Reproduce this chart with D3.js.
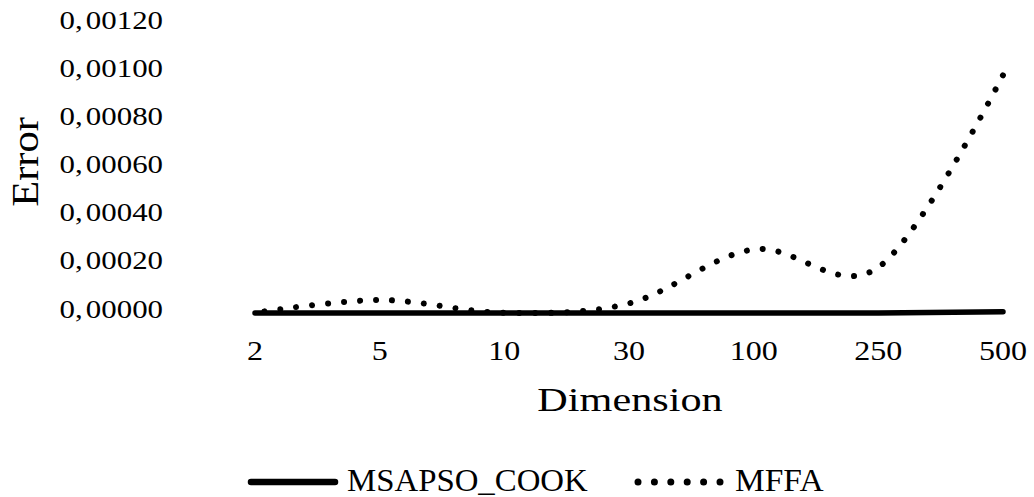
<!DOCTYPE html>
<html>
<head>
<meta charset="utf-8">
<script src="https://cdn.jsdelivr.net/npm/d3@7"></script>
<style>
  html, body { margin: 0; padding: 0; background: #fff; }
  svg { display: block; }
  text { font-family: "Liberation Serif", "Times New Roman", serif; fill: #000; }
</style>
</head>
<body>
<svg id="chart" width="1034" height="497"></svg>
<script>
const categories = ["2", "5", "10", "30", "100", "250", "500"];
const seriesNames = ["MSAPSO_COOK", "MFFA"];
const msapsoCook = [0, 0, 0, 0, 0, 0, 0.000005];
const mffa = [0.000001, 0.000054, 0.000001, 0.00004, 0.000265, 0.00019, 0.00099];
const yTicks = [0, 0.0002, 0.0004, 0.0006, 0.0008, 0.0010, 0.0012];
const xTitle = "Dimension";
const yTitle = "Error";

const svg = d3.select("#chart");
const x = d3.scalePoint().domain(categories).range([255, 1003]);
const y = d3.scaleLinear().domain([0, 0.0012]).range([313, 24.7]);

const fmt = v => d3.format(".5f")(v).replace(".", ",");

// Y tick labels
const yg = svg.append("g");
yTicks.forEach(v => {
  const s = fmt(v);
  const t = yg.append("text")
    .attr("transform", `translate(163,${y(v) + 4.5}) scale(1.26,1)`)
    .attr("text-anchor", "end")
    .attr("font-size", 24.5);
  t.append("tspan").text(s.slice(0, 2));
  t.append("tspan").attr("dx", 2.5).text(s.slice(2));
});

// X tick labels
svg.append("g").selectAll("text").data(categories).join("text")
  .attr("transform", d => `translate(${x(d)},360) scale(1.21,1)`)
  .attr("text-anchor", "middle")
  .attr("font-size", 26.5)
  .text(d => d);

// Axis titles
svg.append("text")
  .attr("transform", "translate(630,411) scale(1.28,1)")
  .attr("text-anchor", "middle")
  .attr("font-size", 33)
  .text(xTitle);
svg.append("text")
  .attr("transform", "translate(38,162) rotate(-90) scale(1.25,1.1)")
  .attr("text-anchor", "middle")
  .attr("font-size", 34)
  .text(yTitle);

const line = d3.line()
  .x((d, i) => x(categories[i]))
  .y(d => y(d))
  .curve(d3.curveCatmullRom.alpha(0));

// MFFA dotted (dots spaced so one lands at the last point)
const period = 16;
const mffaPath = svg.append("path")
  .datum(mffa)
  .attr("d", line)
  .attr("fill", "none")
  .attr("stroke", "#000")
  .attr("stroke-width", 6)
  .attr("stroke-linecap", "round")
  .attr("stroke-dasharray", `0.01 ${period - 0.01}`);
const L = mffaPath.node().getTotalLength();
const target = L - 0.5;
mffaPath.attr("stroke-dashoffset", (period - (target % period)) % period);

// MSAPSO solid
svg.append("path")
  .datum(msapsoCook)
  .attr("d", line)
  .attr("fill", "none")
  .attr("stroke", "#000")
  .attr("stroke-width", 5.5)
  .attr("stroke-linecap", "round");

// Legend
const lg = svg.append("g");
lg.append("line")
  .attr("x1", 251).attr("x2", 335).attr("y1", 482).attr("y2", 482)
  .attr("stroke", "#000").attr("stroke-width", 6.5).attr("stroke-linecap", "round");
lg.append("text")
  .attr("transform", "translate(347,491) scale(1.01,1)")
  .attr("font-size", 32.5)
  .text(seriesNames[0]);
lg.append("line")
  .attr("x1", 638).attr("x2", 721).attr("y1", 482).attr("y2", 482)
  .attr("stroke", "#000").attr("stroke-width", 7).attr("stroke-linecap", "round")
  .attr("stroke-dasharray", "0.01 16.39");
lg.append("text")
  .attr("transform", "translate(735,491) scale(1.03,1)")
  .attr("font-size", 32.5)
  .text(seriesNames[1]);
</script>
</body>
</html>
